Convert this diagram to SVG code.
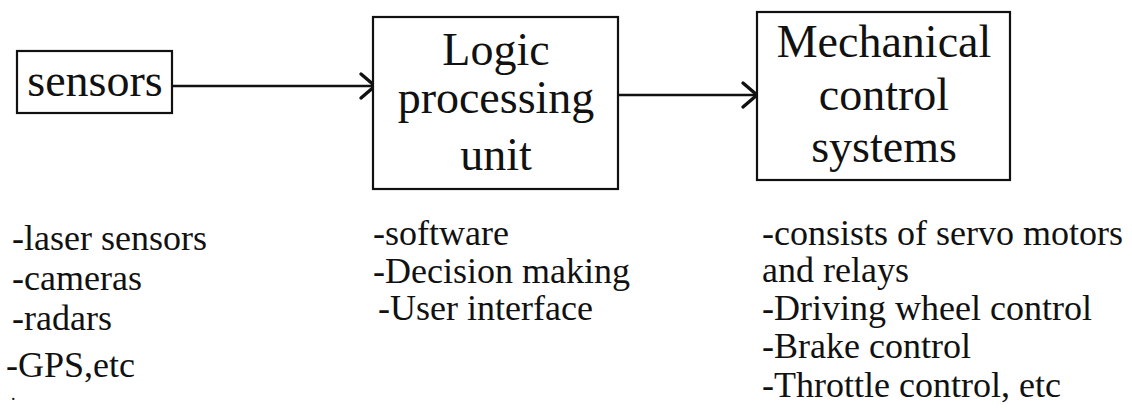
<svg xmlns="http://www.w3.org/2000/svg" width="1132" height="408" viewBox="0 0 1132 408">
  <style>
    .box { fill: #ffffff; stroke: #111111; stroke-width: 2.2; }
    .link { fill: none; stroke: #111111; stroke-width: 2.6; }
    .head { fill: none; stroke: #111111; stroke-width: 3.4; stroke-linecap: round; }
  </style>
  <rect width="1132" height="408" fill="#ffffff"/>

  <!-- connectors -->
  <g id="connectors">
    <line class="link" x1="172" y1="86" x2="374" y2="86"/>
    <polyline class="head" points="361,74 375,86 361,98"/>
    <line class="link" x1="618" y1="95" x2="756" y2="95"/>
    <polyline class="head" points="743,83 757,95 743,107"/>
  </g>

  <!-- sensors -->
  <g id="sensors">
    <rect class="box" x="17" y="51" width="155" height="62"/>
    <text x="95" y="96" font-family="Times New Roman, Liberation Serif, serif" font-size="46" fill="#111111" text-anchor="middle">sensors</text>
  </g>

  <!-- logic processing unit -->
  <g id="logic-unit" font-family="Times New Roman, Liberation Serif, serif" font-size="46" fill="#111111" text-anchor="middle">
    <rect class="box" x="373" y="17" width="245" height="172"/>
    <text x="496" y="65">Logic</text>
    <text x="496" y="113">processing</text>
    <text x="496" y="170">unit</text>
  </g>

  <!-- mechanical control systems -->
  <g id="mechanical" font-family="Times New Roman, Liberation Serif, serif" font-size="46" fill="#111111" text-anchor="middle">
    <rect class="box" x="757" y="12" width="253" height="168"/>
    <text x="884" y="57">Mechanical</text>
    <text x="884" y="110">control</text>
    <text x="884" y="162">systems</text>
  </g>

  <!-- component lists -->
  <g id="sensor-list" font-family="Times New Roman, Liberation Serif, serif" font-size="36" fill="#111111">
    <text x="12" y="250">-laser sensors</text>
    <text x="12" y="290">-cameras</text>
    <text x="12" y="330">-radars</text>
    <text x="6" y="377">-GPS,etc</text>
    <text x="11" y="400" font-size="18">.</text>
  </g>

  <g id="logic-list" font-family="Times New Roman, Liberation Serif, serif" font-size="36" fill="#111111">
    <text x="373" y="245">-software</text>
    <text x="373" y="283">-Decision making</text>
    <text x="378" y="320">-User interface</text>
  </g>

  <g id="mechanical-list" font-family="Times New Roman, Liberation Serif, serif" font-size="36" fill="#111111">
    <text x="762" y="245">-consists of servo motors</text>
    <text x="762" y="282">and relays</text>
    <text x="762" y="320">-Driving wheel control</text>
    <text x="762" y="358">-Brake control</text>
    <text x="762" y="397">-Throttle control, etc</text>
  </g>
</svg>
